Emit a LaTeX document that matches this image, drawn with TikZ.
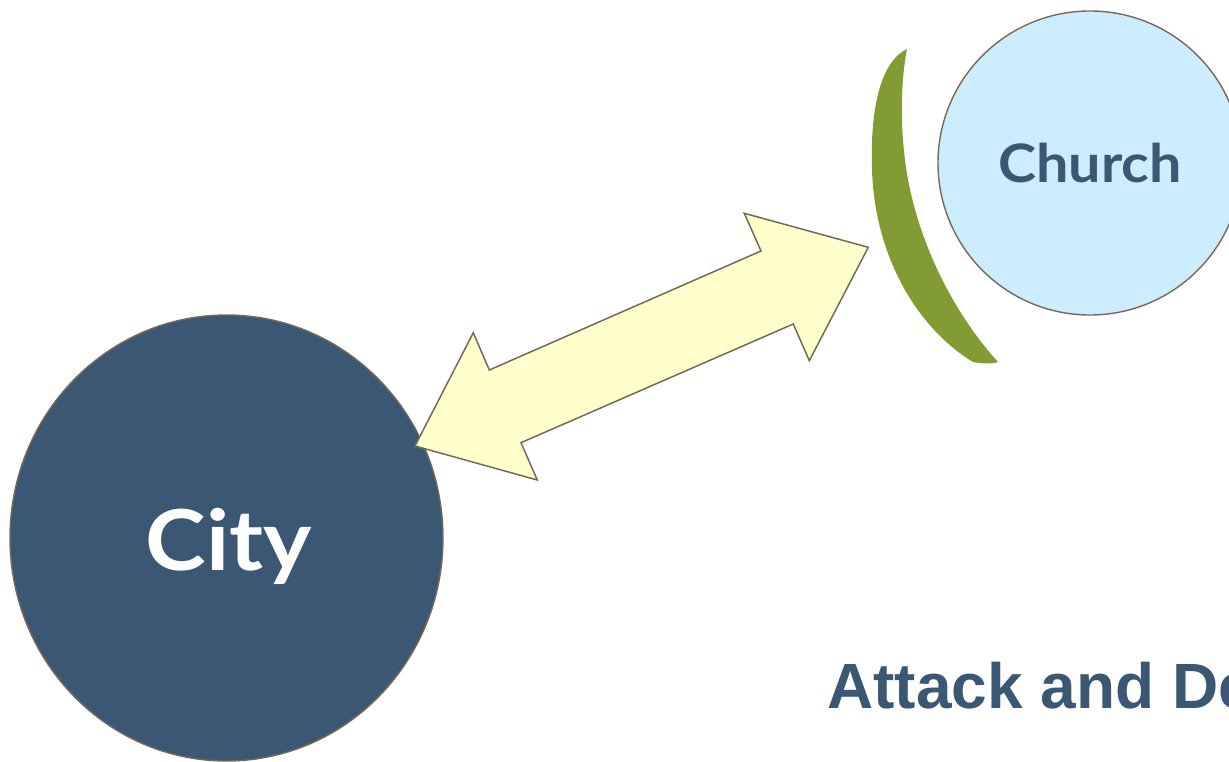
\documentclass[tikz,border=0pt]{standalone}
\usepackage{fontspec}
\setmainfont{Liberation Sans}
\newfontfamily\labelfont{Lato}
\usetikzlibrary{shapes.geometric}
\definecolor{edgecol}{HTML}{766A57}
\definecolor{navy}{HTML}{3A5873}
\definecolor{skyfill}{HTML}{CCECFF}
\definecolor{leaf}{HTML}{829B32}
\definecolor{cream}{HTML}{FFFFCC}
\tikzset{
  blob/.style={ellipse, draw=edgecol, line width=1.4pt, inner sep=0pt},
  lbl/.style={anchor=base, inner sep=0pt, font=\labelfont\bfseries},
}
\begin{document}
\begin{tikzpicture}[x=1pt,y=-1pt]
\useasboundingbox (0,0) rectangle (1229,762);
\clip (0,0) rectangle (1229,762);
\fill[white] (0,0) rectangle (1229,762);
% circles
\node[blob, fill=navy, minimum width=433pt, minimum height=446pt] (city) at (226.5,538) {};
\node[blob, fill=skyfill, minimum width=304pt, minimum height=304pt] (church) at (1090,163) {};
% labels
\node[lbl, text=white, font=\labelfont\bfseries\fontsize{84}{90}\selectfont] (citytxt) at (229,570) {\scalebox{1.09}[1]{City}};
\node[lbl, text=navy, font=\labelfont\bfseries\fontsize{53}{60}\selectfont] (churchtxt) at (1090,183) {\scalebox{1.085}[1]{Church}};
% crescent shield
\fill[leaf] (907,49) .. controls (880,62) and (870,110) .. (872,170)
  .. controls (875,260) and (920,330) .. (973,362)
  .. controls (983,364) and (992,364) .. (998,362)
  .. controls (955,315) and (915,240) .. (905,160)
  .. controls (900,120) and (901,80) .. (907,49) -- cycle;
% double arrow
\coordinate (a1) at (415,446);
\coordinate (a2) at (473.3,332.7);
\coordinate (a3) at (489.3,370);
\coordinate (a4) at (761,251);
\coordinate (a5) at (744.3,213.3);
\coordinate (a6) at (868.3,247.3);
\coordinate (a7) at (809.3,360.7);
\coordinate (a8) at (793.3,324);
\coordinate (a9) at (521,442.7);
\coordinate (a10) at (537.3,480);
\draw[fill=cream, draw=edgecol, line width=1.5pt, line join=miter]
  (a1) -- (a2) -- (a3) -- (a4) -- (a5) -- (a6) -- (a7) -- (a8) -- (a9) -- (a10) -- cycle;
% title
\node[anchor=base west, inner sep=0pt, text=navy, font=\bfseries\fontsize{64}{70}\selectfont] (title) at (827,708) {Attack and De};
\end{tikzpicture}
\end{document}
